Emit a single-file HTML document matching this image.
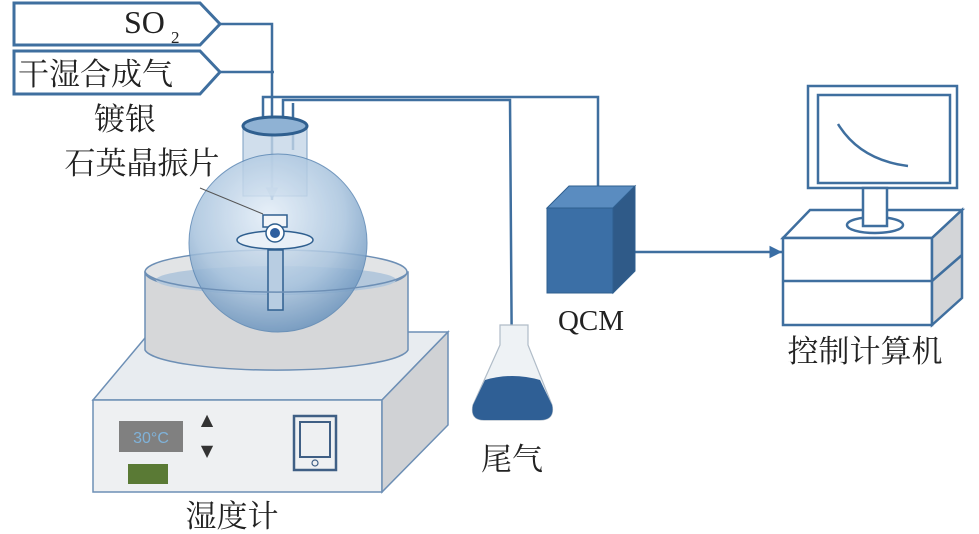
<!DOCTYPE html>
<html><head><meta charset="utf-8"><style>
html,body{margin:0;padding:0;background:#fff;}
svg{display:block;}
text{font-family:"Liberation Serif","Noto Serif CJK SC",serif;fill:#222;}
</style></head><body>
<svg width="979" height="534" viewBox="0 0 979 534" xmlns="http://www.w3.org/2000/svg">
<defs>
<radialGradient id="sph" cx="0.45" cy="0.35" r="0.7">
<stop offset="0" stop-color="#e4eef8"/><stop offset="0.6" stop-color="#a9c4de"/><stop offset="1" stop-color="#5f8bb8"/>
</radialGradient>
<marker id="ar" markerWidth="6" markerHeight="6" refX="5" refY="3" orient="auto"><path d="M0,0.5 L5,3 L0,5.5 z" fill="#3a6ea5"/></marker>
</defs>
<g stroke="#3f6f9f" stroke-width="3" fill="#fff">
<polygon points="14,3 200,3 220,24 200,45 14,45"/>
<polygon points="14,51 200,51 220,72 200,94 14,94"/>
</g>
<text x="124" y="33" font-size="32">SO</text><text x="171" y="43" font-size="17">2</text>
<text x="18" y="85" font-size="31">干湿合成气</text>
<g stroke="#3f6f9f" stroke-width="2.5" fill="none">
<polyline points="220,24 272,24 272,200" marker-end="url(#ar)"/>
<line x1="220" y1="72" x2="274" y2="72"/>
<polyline points="263,130 263,97 598,97 598,205" marker-end="url(#ar)"/>
<polyline points="283,130 283,100 510,100 512,382"/>
<line x1="293" y1="103" x2="293" y2="150"/>
<line x1="615" y1="252" x2="782" y2="252" marker-end="url(#ar)"/>
</g>
<!-- hot plate -->
<polygon points="93,400 382,400 448,332 150,332" fill="#e8ecf0" stroke="#6d8fb5" stroke-width="1.5"/>
<rect x="93" y="400" width="289" height="92" fill="#eef0f2" stroke="#6d8fb5" stroke-width="1.5"/>
<polygon points="382,400 448,332 448,425 382,492" fill="#d0d2d5" stroke="#6d8fb5" stroke-width="1.5"/>
<rect x="119" y="421" width="64" height="31" fill="#808080"/>
<text x="151" y="443" font-size="16" text-anchor="middle" style="fill:#7fb2d9;font-family:'Liberation Sans',sans-serif">30°C</text>
<rect x="128" y="464" width="40" height="20" fill="#5a7a35"/>
<text x="207" y="425" font-size="16" text-anchor="middle" style="font-family:'DejaVu Sans',sans-serif;fill:#333">▲</text>
<text x="207" y="456" font-size="16" text-anchor="middle" style="font-family:'DejaVu Sans',sans-serif;fill:#333">▼</text>
<rect x="294" y="416" width="42" height="54" fill="none" stroke="#3f5f85" stroke-width="2.5"/>
<rect x="300" y="422" width="30" height="35" fill="none" stroke="#3f5f85" stroke-width="2"/>
<circle cx="315" cy="463" r="3" fill="none" stroke="#3f5f85" stroke-width="1.2"/>
<!-- water bath -->
<path d="M145,272 L145,350 A132,22 0 0 0 408,350 L408,272 Z" fill="#d6d7d9" stroke="#6d8fb5" stroke-width="1.5"/>
<ellipse cx="276" cy="272" rx="131" ry="22" fill="#e2e4e6" stroke="#6d8fb5" stroke-width="1.5"/>
<ellipse cx="276" cy="280" rx="120" ry="14" fill="#b4c8dc"/>
<!-- flask neck and sphere -->
<rect x="243" y="126" width="64" height="70" fill="#c5d7e8" stroke="#5a86b3" stroke-width="1" opacity="0.8"/>
<circle cx="278" cy="243" r="89" fill="url(#sph)" stroke="#5a86b3" stroke-width="1" opacity="0.85"/>
<ellipse cx="275" cy="126" rx="32" ry="9" fill="#8fb2d4" stroke="#2f5f8f" stroke-width="3"/>
<ellipse cx="275" cy="240" rx="38" ry="9" fill="#e9f0f7" stroke="#2f5f8f" stroke-width="1.5"/>
<rect x="263" y="215" width="24" height="12" fill="#f2f5f8" stroke="#2f5f8f" stroke-width="1.5"/>
<circle cx="275" cy="233" r="9" fill="#fff" stroke="#2f5f8f" stroke-width="1.5"/>
<circle cx="275" cy="233" r="5" fill="#2f5f9f"/>
<rect x="268" y="250" width="15" height="60" fill="#b8cde2" stroke="#2f5f8f" stroke-width="1.5"/>
<line x1="200" y1="188" x2="263" y2="214" stroke="#555" stroke-width="1"/>
<path d="M145,272 A132,22 0 0 0 408,272" fill="none" stroke="#6d8fb5" stroke-width="1.5"/>
<text x="125" y="130" font-size="31" text-anchor="middle">镀银</text>
<text x="142" y="174" font-size="31" text-anchor="middle">石英晶振片</text>
<text x="232" y="527" font-size="31" text-anchor="middle">湿度计</text>
<!-- erlenmeyer -->
<path d="M500,325 L528,325 L528,345 L552,405 Q555,420 540,420 L484,420 Q470,420 473,405 L500,345 Z" fill="#eef2f5" stroke="#b0bcc8" stroke-width="1.2"/>
<path d="M485,380 Q512,372 540,380 L552,405 Q555,420 540,420 L484,420 Q470,420 473,405 Z" fill="#2f5f95"/>
<text x="512" y="470" font-size="31" text-anchor="middle">尾气</text>
<!-- QCM -->
<polygon points="547,208 569,186 635,186 613,208" fill="#5a8cc0" stroke="#2f5f8f"/>
<polygon points="613,208 635,186 635,271 613,293" fill="#2f5a88" stroke="#2f5f8f"/>
<rect x="547" y="208" width="66" height="85" fill="#3b6fa6" stroke="#2f5f8f"/>
<text x="591" y="330" font-size="29" text-anchor="middle">QCM</text>
<!-- computer -->
<g stroke="#3f6f9f" stroke-width="2.5" fill="#fff">
<rect x="808" y="86" width="149" height="102"/>
<rect x="818" y="95" width="132" height="88"/>
<polygon points="783,238 810,210 962,210 932,238"/>
<ellipse cx="875" cy="225" rx="28" ry="8"/>
<rect x="863" y="188" width="24" height="38"/>
<rect x="783" y="238" width="149" height="87"/>
<line x1="783" y1="281" x2="932" y2="281"/>
<polygon points="932,238 962,210 962,298 932,325" fill="#d3d5d8"/>
<line x1="932" y1="281" x2="962" y2="255"/>
</g>
<path d="M838,124 Q860,160 908,166" fill="none" stroke="#3f6f9f" stroke-width="2.5"/>
<text x="865" y="362" font-size="31" text-anchor="middle">控制计算机</text>
</svg>
</body></html>
